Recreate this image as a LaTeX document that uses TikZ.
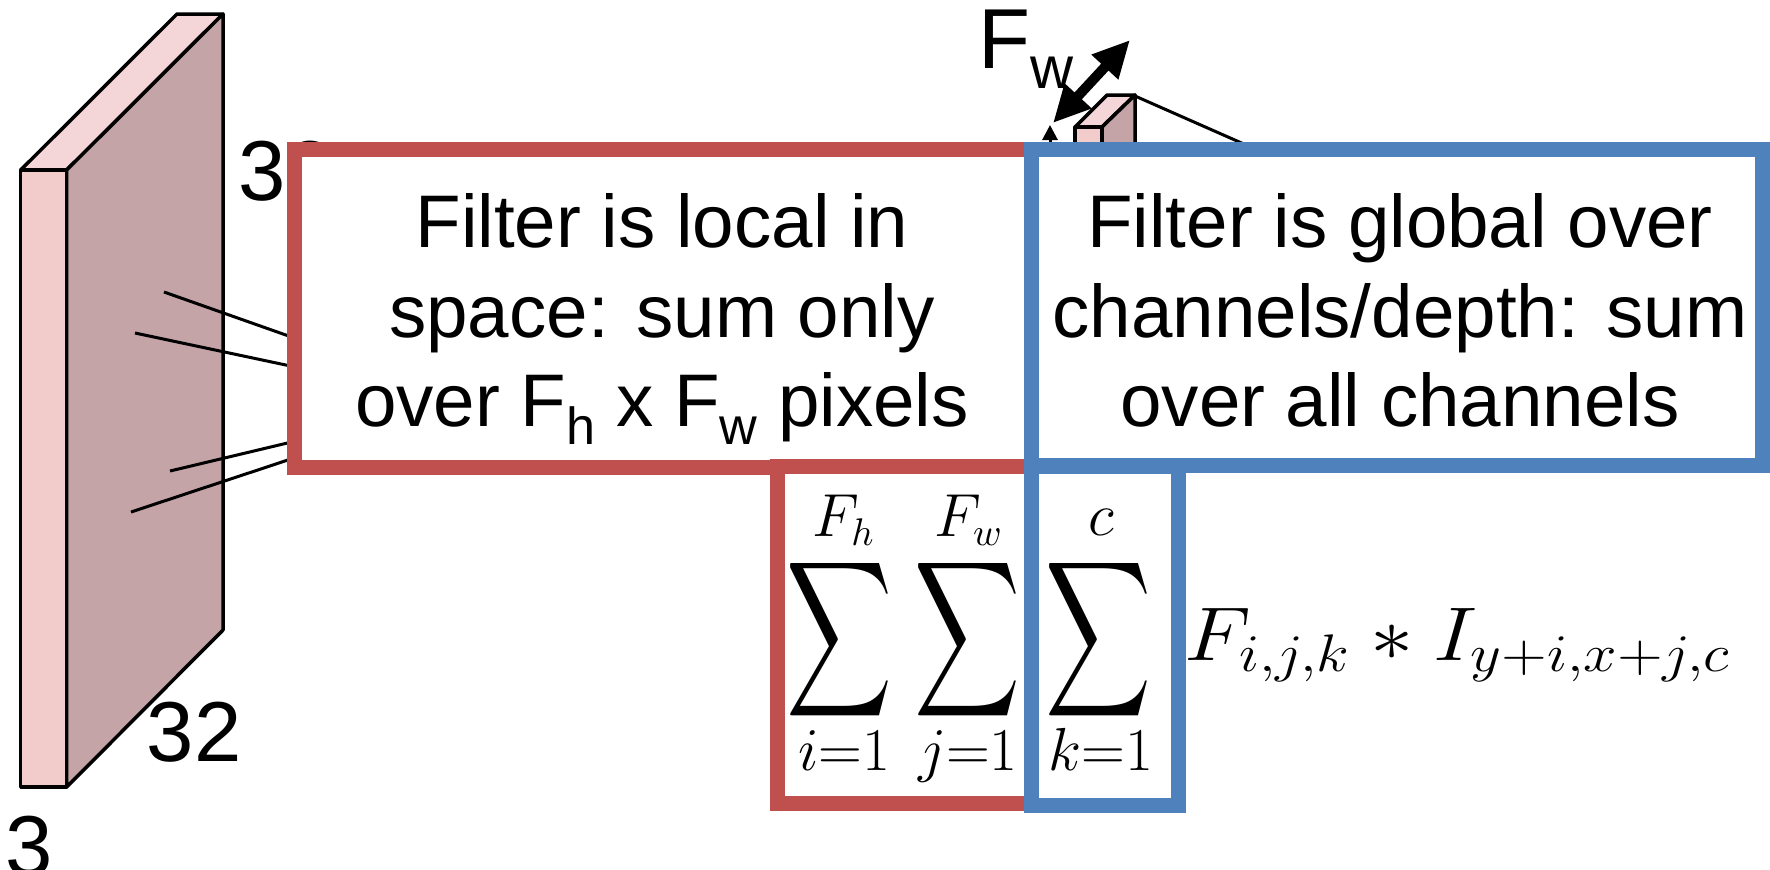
\documentclass[tikz,border=0pt]{standalone}
\usepackage[no-math]{fontspec}
\setmainfont{Liberation Sans}
\usepackage{graphicx}
\usetikzlibrary{arrows.meta,calc,positioning}

\definecolor{boxred}{RGB}{192,80,77}
\definecolor{boxblue}{RGB}{79,129,189}
\definecolor{facefront}{RGB}{242,203,203}
\definecolor{facetop}{RGB}{245,214,216}
\definecolor{faceside}{RGB}{196,164,166}

\newcommand{\lowsub}[1]{\raisebox{-0.24em}{\scalebox{0.7}{#1}}}

\begin{document}
\begin{tikzpicture}[
    x=0.01cm, y=-0.01cm,
    facet/.style={draw=black, line width=0.035cm, line join=round},
    wire/.style={line width=0.03cm},
    redbox/.style={draw=boxred, line width=0.15cm, fill=white, inner sep=0pt},
    bluebox/.style={draw=boxblue, line width=0.15cm, fill=white, inner sep=0pt},
    note/.style={align=center, inner sep=0pt, font=\fontsize{21.2}{25.4}\selectfont},
    dimlabel/.style={inner sep=0pt, anchor=base west, font=\fontsize{24.2}{29}\selectfont},
    sumsign/.style={inner sep=0pt},
    limit/.style={inner sep=0pt, anchor=base, font=\fontsize{16.2}{19}\selectfont},
    dimarrow/.style={line width=0.1cm, {Triangle[length=0.37cm,width=0.34cm]}-{Triangle[length=0.37cm,width=0.34cm]}}
]
    \useasboundingbox (0,0) rectangle (1770,869);

    % input volume
    \filldraw[facet, fill=facetop] (20.7,170) -- (177,14) -- (223,14) -- (66.7,170) -- cycle;
    \filldraw[facet, fill=faceside] (66.7,170) -- (223,14) -- (223,630) -- (66.7,787) -- cycle;
    \filldraw[facet, fill=facefront] (20.7,170) rectangle (66.7,787);

    \coordinate (a1) at (164,292);
    \coordinate (a2) at (135,333);
    \coordinate (a3) at (170,471);
    \coordinate (a4) at (131,512);
    \coordinate (e1) at (300,340);
    \coordinate (e2) at (300,368);
    \coordinate (e3) at (300,440);
    \coordinate (e4) at (300,456);
    \draw[wire] (a1) -- (e1);
    \draw[wire] (a2) -- (e2);
    \draw[wire] (a3) -- (e3);
    \draw[wire] (a4) -- (e4);

    \node[dimlabel] (wtop) at (238,200) {32};
    \node[dimlabel] (hside) at (146,761) {32};
    \node[dimlabel] (dfront) at (5,875) {3};

    % small filter
    \filldraw[facet, fill=facetop] (1075,127) -- (1107,95) -- (1135,95) -- (1102,127) -- cycle;
    \filldraw[facet, fill=faceside] (1102,127) -- (1135,95) -- (1135,175) -- (1102,175) -- cycle;
    \filldraw[facet, fill=facefront] (1075,127) rectangle (1102,175);
    \coordinate (cubecorner) at (1135,96);
    \coordinate (cubewire) at (1262,152);
    \draw[wire] (cubecorner) -- (cubewire);

    \coordinate (fwa) at (1053,123);
    \coordinate (fwb) at (1130,40);
    \draw[dimarrow] (fwa) -- (fwb);
    \coordinate (fhtip) at (1050,125);
    \coordinate (fhfoot) at (1050,260);
    \draw[line width=0.03cm, -{Triangle[length=0.15cm,width=0.15cm]}] (fhfoot) -- (fhtip);
    \node[dimlabel] (fwlabel) at (978,68) {F\lowsub{w}};

    % boxes
    \node[redbox, minimum width=7.37cm, minimum height=3.17cm] (localbox) at (663.5,308.5) {};
    \node[redbox, minimum width=2.54cm, minimum height=3.36cm] (localsum) at (905,635) {};
    \node[bluebox, minimum width=7.30cm, minimum height=3.15cm] (globalbox) at (1397,307.5) {};
    \node[bluebox, minimum width=1.46cm, minimum height=3.38cm] (globalsum) at (1105,636) {};

    \node[note, anchor=north] (localtext) at (662,193) {Filter is local in\\space: sum only\\over F\lowsub{h} x F\lowsub{w} pixels};
    \node[note, anchor=north] (globaltext) at (1400,193) {Filter is global over\\channels/depth: sum\\over all channels};

    % formula
    \node[sumsign] (s1) at (840,640) {\resizebox*{1.06cm}{1.74cm}{$\displaystyle\sum$}};
    \node[sumsign] (s2) at (968,640) {\resizebox*{1.06cm}{1.74cm}{$\displaystyle\sum$}};
    \node[sumsign] (s3) at (1099,640) {\resizebox*{1.06cm}{1.74cm}{$\displaystyle\sum$}};
    \node[limit] (t1) at (844,536) {$F_h$};
    \node[limit] (t2) at (969,536) {$F_w$};
    \node[limit] (t3) at (1101,535) {$c$};
    \node[limit] (b1) at (844,770) {$i{=}1$};
    \node[limit] (b2) at (968,770) {$j{=}1$};
    \node[limit] (b3) at (1101,770) {$k{=}1$};
    \node[inner sep=0pt, anchor=base west, font=\fontsize{21.6}{26}\selectfont] (term) at (1184,660) {\resizebox{5.46cm}{0.52cm}{$F_{i,j,k} * I_{y+i,x+j,c}$}};
\end{tikzpicture}
\end{document}
